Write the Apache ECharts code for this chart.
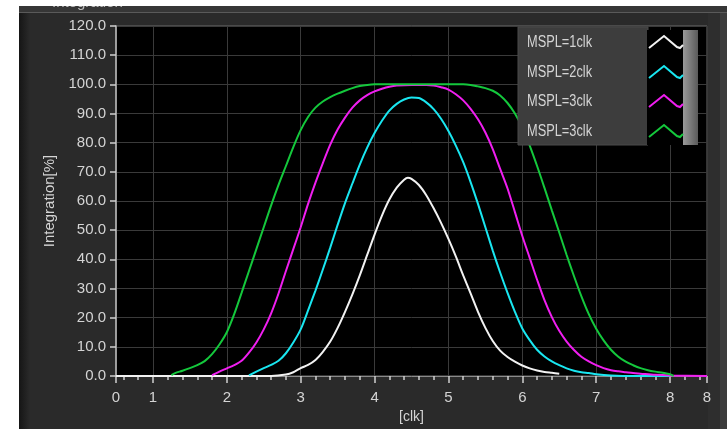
<!DOCTYPE html>
<html><head><meta charset="utf-8">
<script src="https://cdn.jsdelivr.net/npm/echarts@6/dist/echarts.min.js"></script>
<style>html,body{margin:0;padding:0;background:#fff;overflow:hidden}#c{width:727px;height:429px}</style>
</head><body><div id="c"></div>
<script>
// ---- data ----
const seriesNames = ['MSPL=1clk', 'MSPL=2clk', 'MSPL=3clk', 'MSPL=3clk'];
const seriesColors = ['#f2f2f2', '#19e6f0', '#f01ef0', '#14c83c'];

const whiteData = [[0.5,0],[2.6,0],[2.8,0.5],[2.9,1.3],[3.0,2.7],[3.1,3.8],[3.2,5.5],[3.3,8.3],[3.4,11.8],[3.5,16.5],[3.6,22],[3.7,28],[3.8,34.5],[3.9,41.5],[4.0,48.5],[4.1,55],[4.2,60.5],[4.3,64.6],[4.4,67.3],[4.45,68],[4.5,67.6],[4.6,65.5],[4.7,62],[4.8,57.5],[4.9,52.5],[5.0,47],[5.1,41],[5.2,34.5],[5.3,28.3],[5.4,22],[5.5,16.5],[5.6,12],[5.7,8.7],[5.8,6.5],[5.9,4.9],[6.0,3.6],[6.1,2.6],[6.2,1.9],[6.3,1.4],[6.4,1.1],[6.5,0.8]];

const cyanData = [[2.3,0.2],[2.4,1.5],[2.5,2.7],[2.6,3.8],[2.7,5.2],[2.8,7.8],[2.9,11.5],[3.0,16],[3.1,22.5],[3.2,29.3],[3.3,36.5],[3.4,44],[3.5,51.8],[3.6,59.3],[3.7,66],[3.8,72.5],[3.9,78.3],[4.0,83.3],[4.1,87.5],[4.2,91],[4.3,93.3],[4.4,94.8],[4.5,95.5],[4.6,95.3],[4.7,93.8],[4.8,91.5],[4.9,88.2],[5.0,84],[5.1,79],[5.2,73.3],[5.3,66.5],[5.4,59],[5.5,51],[5.6,43],[5.7,35.5],[5.8,28.5],[5.9,22],[6.0,16.3],[6.1,12.3],[6.2,9],[6.3,6.7],[6.4,5],[6.5,3.7],[6.6,2.6],[6.7,1.8],[6.8,1.3],[6.9,1],[7.0,0.6],[7.2,0.2],[7.5,0],[8.0,0]];

const magentaData = [[1.8,0.3],[1.9,1.5],[2.0,2.6],[2.1,3.7],[2.2,5.2],[2.3,8],[2.4,11.5],[2.5,16],[2.6,21.5],[2.7,28.3],[2.8,36],[2.9,43.5],[3.0,51],[3.1,59],[3.2,66.3],[3.3,73],[3.4,79.3],[3.5,84.5],[3.6,88.6],[3.7,92],[3.8,94.5],[3.9,96.3],[4.0,97.6],[4.1,98.5],[4.2,99.2],[4.3,99.6],[4.5,99.8],[4.7,99.8],[4.8,99.6],[4.9,99],[5.0,98.2],[5.1,96.6],[5.2,94.5],[5.3,91.6],[5.4,88],[5.5,83.5],[5.6,77.8],[5.7,71],[5.8,64.3],[5.9,56.2],[6.0,48],[6.1,40.5],[6.2,33],[6.3,26],[6.4,20.2],[6.5,15.5],[6.6,11.8],[6.7,8.9],[6.8,6.6],[6.9,5],[7.0,3.7],[7.1,2.7],[7.2,2],[7.3,1.6],[7.4,1.3],[7.5,1],[7.6,0.8],[7.8,0.4],[8.0,0.2],[8.5,0]];

const greenData = [[1.25,0.3],[1.3,1],[1.4,1.8],[1.5,2.7],[1.6,3.7],[1.7,5.1],[1.8,7.5],[1.9,10.8],[2.0,15],[2.1,21.2],[2.2,28.5],[2.3,36],[2.4,43.5],[2.5,51],[2.6,58.5],[2.7,65.5],[2.8,72],[2.9,78.5],[3.0,84.3],[3.1,88.8],[3.2,92],[3.3,94.1],[3.4,95.6],[3.5,96.8],[3.6,97.8],[3.7,98.7],[3.8,99.4],[3.9,99.8],[4.0,100],[4.5,100],[5.0,100],[5.2,100],[5.3,99.8],[5.4,99.3],[5.5,98.7],[5.6,97.8],[5.7,96.2],[5.8,93.6],[5.9,90],[6.0,85.2],[6.1,79],[6.2,72],[6.3,64.5],[6.4,56.8],[6.5,49.2],[6.6,41.5],[6.7,34.2],[6.8,27.3],[6.9,21.2],[7.0,16.2],[7.1,12.2],[7.2,9],[7.3,6.6],[7.4,4.9],[7.5,3.7],[7.6,2.7],[7.7,2],[7.8,1.5],[7.9,1.1],[8.0,0.6],[8.05,0]];

const xTickValues = [0.5, 1, 2, 3, 4, 5, 6, 7, 8, 8.5];
const xTickLabels = ['0', '1', '2', '3', '4', '5', '6', '7', '8', '8'];
const xMinorTickValues = [0.6,0.8,1.2,1.4,1.6,1.8,2.2,2.4,2.6,2.8,3.2,3.4,3.6,3.8,4.2,4.4,4.6,4.8,5.2,5.4,5.6,5.8,6.2,6.4,6.6,6.8,7.2,7.4,7.6,7.8,8.2,8.4];
const yMin = 0, yMax = 120, yStep = 10;
const xAxisName = '[clk]';
const yAxisName = 'Integration[%]';

// ---- chart ----
const FONT = '"Liberation Sans", Arial, sans-serif';
const TXT = '#d4d4d4';
const chart = echarts.init(document.getElementById('c'), null, {renderer: 'canvas'});

const allData = [whiteData, cyanData, magentaData, greenData];
const series = allData.map((d, i) => ({
  type: 'line', name: seriesNames[i] + '#' + i, data: d, xAxisIndex: 0, yAxisIndex: 0,
  showSymbol: false, symbol: 'none', smooth: 0.3,
  lineStyle: {color: seriesColors[i], width: 2}, itemStyle: {color: seriesColors[i]},
  animation: false, z: 3 + i
}));

const legendRows = [43, 73, 102, 132];
const legendGraphics = [
  {type: 'rect', shape: {x: 518, y: 27, width: 130, height: 118}, style: {fill: '#3d3d3d', stroke: '#4a4a4a', lineWidth: 1}, z: 100},
  {type: 'rect', shape: {x: 647, y: 30, width: 36, height: 115}, style: {fill: '#000'}, z: 101},
  {type: 'rect', shape: {x: 683, y: 30, width: 15, height: 115}, style: {fill: new echarts.graphic.LinearGradient(0, 0, 1, 0, [{offset: 0, color: '#9a9a9a'}, {offset: 0.5, color: '#7a7a7a'}, {offset: 1, color: '#5a5a5a'}])}, z: 101}
];
legendRows.forEach((cy, i) => {
  legendGraphics.push({type: 'text', x: 527, y: cy, scaleX: 0.8, style: {text: seriesNames[i], fill: TXT, font: '16px ' + FONT, verticalAlign: 'middle'}, z: 102});
  legendGraphics.push({type: 'polyline', shape: {points: [[649, cy + 5], [664, cy - 7], [677, cy + 4], [680, cy + 5], [683, cy + 2]]}, style: {stroke: seriesColors[i], lineWidth: 2, fill: null}, z: 102});
});

const frameGraphics = [
  {type: 'rect', shape: {x: 19, y: 6, width: 11, height: 423}, style: {fill: new echarts.graphic.LinearGradient(0, 0, 1, 0, [{offset: 0, color: '#151515'}, {offset: 1, color: '#2a2a2a'}])}, z: -1},
  {type: 'rect', shape: {x: 708, y: 6, width: 12, height: 423}, style: {fill: '#2e2e2e'}, z: -1},
  {type: 'rect', shape: {x: 720, y: 6, width: 7, height: 423}, style: {fill: '#3c3c3c'}, z: -1},
  {type: 'rect', shape: {x: 19, y: 6, width: 708, height: 6}, style: {fill: '#363636'}, z: -1},
  {type: 'rect', shape: {x: 19, y: 12, width: 708, height: 1}, style: {fill: '#5a5a5a'}, z: -1},
  {type: 'text', x: 52, y: -5, style: {text: 'Integration', fill: '#bdbdbd', font: '15px ' + FONT}, z: 150},
  {type: 'rect', shape: {x: 0, y: 0, width: 727, height: 6}, style: {fill: '#ffffff'}, z: 200},
  {type: 'rect', shape: {x: 0, y: 0, width: 19, height: 429}, style: {fill: '#ffffff'}, z: 200}
];

const option = {
  backgroundColor: '#2a2a2a',
  animation: false,
  grid: {left: 116, right: 20, top: 26, bottom: 53, show: true, backgroundColor: '#000', borderColor: '#6a6a6a', borderWidth: 1, containLabel: false},
  xAxis: [
    {type: 'value', min: 0.5, max: 8.5, position: 'bottom',
     axisLine: {show: true, onZero: false, lineStyle: {color: '#8a8a8a', width: 1}},
     axisTick: {show: true, customValues: xTickValues, length: 7, lineStyle: {color: '#d0d0d0', width: 1.5}},
     axisLabel: {customValues: xTickValues, color: TXT, fontSize: 15, fontFamily: FONT, margin: 14,
       formatter: v => { for (let i = 0; i < xTickValues.length; i++) if (Math.abs(xTickValues[i] - v) < 1e-6) return xTickLabels[i]; return ''; }},
     splitLine: {show: true, lineStyle: {color: '#3a3a3a', width: 1}},
     name: xAxisName, nameLocation: 'middle', nameGap: 28, nameTextStyle: {color: TXT, fontSize: 14, fontFamily: FONT}},
    {type: 'value', min: 0.5, max: 8.5, position: 'bottom',
     axisLine: {show: false, onZero: false},
     axisTick: {show: true, customValues: xMinorTickValues, length: 4, lineStyle: {color: '#cfcfcf', width: 1.5}},
     axisLabel: {show: false}, splitLine: {show: false}}
  ],
  yAxis: {type: 'value', min: yMin, max: yMax, interval: yStep,
    axisLine: {show: true, lineStyle: {color: '#bdbdbd', width: 1.5}},
    axisTick: {show: true, length: 6, lineStyle: {color: '#d0d0d0', width: 1.5}},
    axisLabel: {color: TXT, fontSize: 15, fontFamily: FONT, margin: 10, formatter: v => v.toFixed(1)},
    splitLine: {show: true, lineStyle: {color: '#3a3a3a', width: 1}},
    name: yAxisName, nameLocation: 'middle', nameGap: 45, nameTextStyle: {color: TXT, fontSize: 15, fontFamily: FONT}},
  series: series,
  graphic: {elements: frameGraphics.concat(legendGraphics)}
};
chart.setOption(option);
</script></body></html>
